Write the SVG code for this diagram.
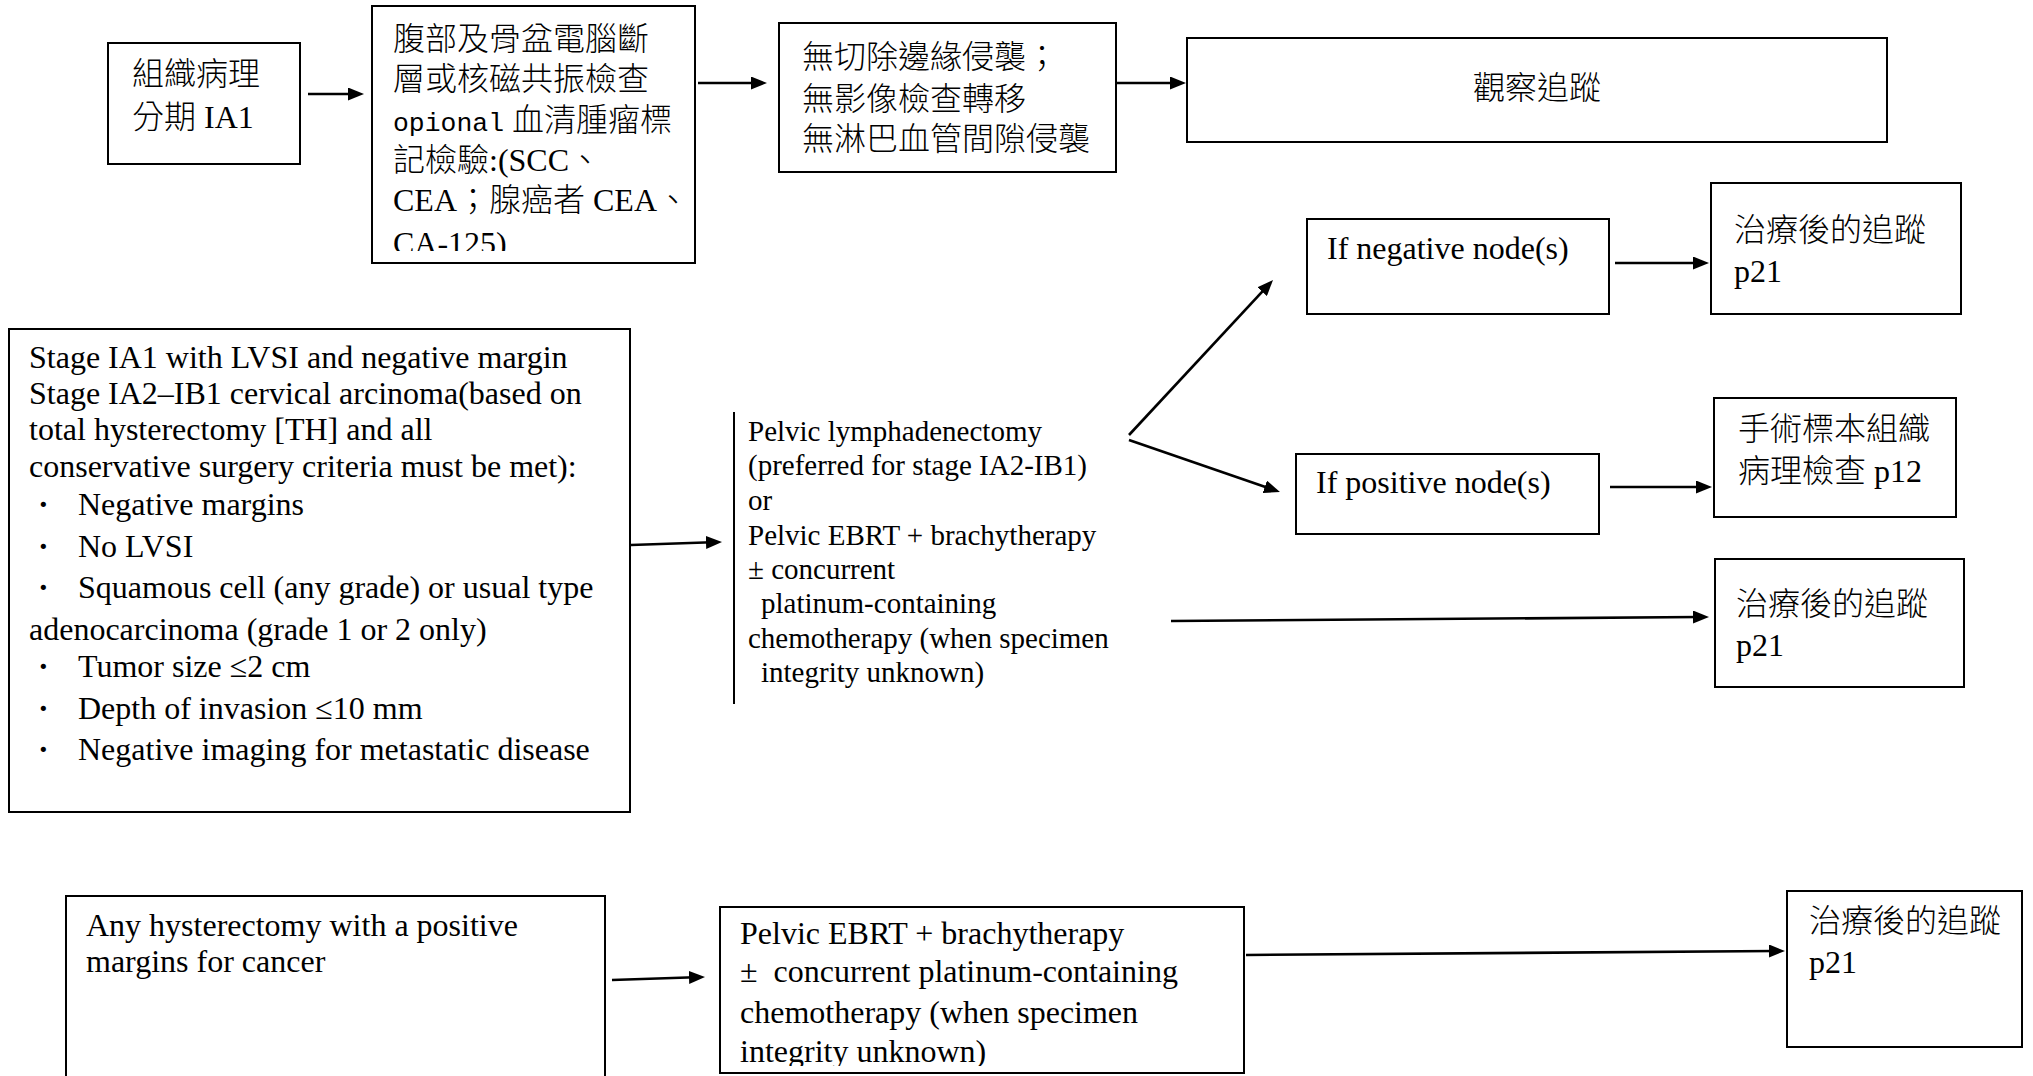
<svg xmlns="http://www.w3.org/2000/svg" width="2033" height="1076" viewBox="0 0 2033 1076">
<style>
.box{fill:#fff;stroke:#000;stroke-width:2}
.t{font-family:"Liberation Serif","Noto Sans CJK TC",serif;font-size:32px;font-weight:300;fill:#000}
.k{font-family:"Liberation Serif","Noto Sans CJK TC",serif;font-size:29px;fill:#000}
.mono{font-family:"Liberation Mono",monospace;font-size:26.5px}
.b{font-weight:700}
.c{fill:none;stroke:#000;stroke-width:2.6}
</style>
<defs>
<marker id="ah" markerUnits="userSpaceOnUse" viewBox="0 0 16 13" markerWidth="16" markerHeight="13" refX="6" refY="6.5" orient="auto">
<path d="M0,0 L16,6.5 L0,13 z" fill="#000"/>
</marker>
<clipPath id="clipB"><rect x="372" y="6" width="323" height="245"/></clipPath>
<clipPath id="clipM"><rect x="720" y="907" width="524" height="159"/></clipPath>
</defs>
<rect width="2033" height="1076" fill="#fff"/>

<g id="connectors">
<line class="c" x1="308" y1="94" x2="354" y2="94" marker-end="url(#ah)"/>
<line class="c" x1="698" y1="83" x2="757" y2="83" marker-end="url(#ah)"/>
<line class="c" x1="1117" y1="83" x2="1176" y2="83" marker-end="url(#ah)"/>
<line class="c" x1="1615" y1="263" x2="1699" y2="263" marker-end="url(#ah)"/>
<line class="c" x1="1610" y1="487" x2="1702" y2="487" marker-end="url(#ah)"/>
<line class="c" x1="1171" y1="621" x2="1699" y2="617" marker-end="url(#ah)"/>
<line class="c" x1="631" y1="545" x2="712" y2="542.3" marker-end="url(#ah)"/>
<line class="c" x1="1129" y1="435" x2="1266.2" y2="287.3" marker-end="url(#ah)"/>
<line class="c" x1="1129" y1="440" x2="1270.5" y2="488.7" marker-end="url(#ah)"/>
<line class="c" x1="612" y1="980" x2="695" y2="977.3" marker-end="url(#ah)"/>
<line class="c" x1="1246" y1="955" x2="1775" y2="951" marker-end="url(#ah)"/>
</g>

<g id="nodeA">
<rect class="box" x="108" y="43" width="192" height="121"/>
<text class="t" font-size="31" x="132" y="85">組織病理</text>
<text class="t" font-size="31" x="132" y="128">分期 IA1</text>
</g>

<g id="nodeB">
<rect class="box" x="372" y="6" width="323" height="257"/>
<g clip-path="url(#clipB)">
<text class="t" x="393" y="50">腹部及骨盆電腦斷</text>
<text class="t" x="393" y="90">層或核磁共振檢查</text>
<text class="t" x="393" y="131"><tspan class="mono" textLength="111" lengthAdjust="spacingAndGlyphs">opional</tspan> 血清腫瘤標</text>
<text class="t" x="393" y="171">記檢驗:(SCC、</text>
<text class="t" x="393" y="211">CEA；腺癌者 CEA、</text>
<text class="t" x="393" y="254">CA-125)</text>
</g>
</g>

<g id="nodeC">
<rect class="box" x="779" y="23" width="337" height="149"/>
<text class="t" font-size="31.5" x="802" y="68">無切除邊緣侵襲；</text>
<text class="t" font-size="31.5" x="802" y="110">無影像檢查轉移</text>
<text class="t" font-size="31.5" x="802" y="150">無淋巴血管間隙侵襲</text>
</g>

<g id="nodeD">
<rect class="box" x="1187" y="38" width="700" height="104"/>
<text class="t" x="1537" y="99" text-anchor="middle">觀察追蹤</text>
</g>

<g id="nodeE">
<rect class="box" x="1307" y="219" width="302" height="95"/>
<text class="t" x="1327" y="259">If negative node(s)</text>
</g>

<g id="nodeF">
<rect class="box" x="1711" y="183" width="250" height="131"/>
<text class="t" x="1734" y="241">治療後的追蹤</text>
<text class="t" x="1734" y="282">p21</text>
</g>

<g id="nodeG">
<rect class="box" x="1296" y="454" width="303" height="80"/>
<text class="t" x="1316" y="493">If positive node(s)</text>
</g>

<g id="nodeH">
<rect class="box" x="1714" y="398" width="242" height="119"/>
<text class="t" font-size="31.5" x="1738" y="440">手術標本組織</text>
<text class="t" font-size="31.5" x="1738" y="482">病理檢查 p12</text>
</g>

<g id="nodeI">
<rect class="box" x="1715" y="559" width="249" height="128"/>
<text class="t" x="1736" y="615">治療後的追蹤</text>
<text class="t" x="1736" y="656">p21</text>
</g>

<g id="nodeJ">
<rect class="box" x="9" y="329" width="621" height="483"/>
<text class="t" x="29" y="368">Stage IA1 with LVSI and negative margin</text>
<text class="t" x="29" y="404">Stage IA2–IB1 cervical arcinoma(based on</text>
<text class="t" x="29" y="440">total hysterectomy [TH] and all</text>
<text class="t" x="29" y="477">conservative surgery criteria must be met):</text>
<text class="t b" x="38" y="515">·</text><text class="t" x="78" y="515">Negative margins</text>
<text class="t b" x="38" y="557">·</text><text class="t" x="78" y="557">No LVSI</text>
<text class="t b" x="38" y="598">·</text><text class="t" x="78" y="598">Squamous cell (any grade) or usual type</text>
<text class="t" x="29" y="640">adenocarcinoma (grade 1 or 2 only)</text>
<text class="t b" x="38" y="677">·</text><text class="t" x="78" y="677">Tumor size ≤2 cm</text>
<text class="t b" x="38" y="719">·</text><text class="t" x="78" y="719">Depth of invasion ≤10 mm</text>
<text class="t b" x="38" y="760">·</text><text class="t" x="78" y="760">Negative imaging for metastatic disease</text>
</g>

<g id="nodeK">
<line x1="734" y1="412" x2="734" y2="704" stroke="#000" stroke-width="2"/>
<text class="k" x="748" y="441">Pelvic lymphadenectomy</text>
<text class="k" x="748" y="475">(preferred for stage IA2-IB1)</text>
<text class="k" x="748" y="510">or</text>
<text class="k" x="748" y="545">Pelvic EBRT + brachytherapy</text>
<text class="k" x="748" y="579">± concurrent</text>
<text class="k" x="761" y="613">platinum-containing</text>
<text class="k" x="748" y="648">chemotherapy (when specimen</text>
<text class="k" x="761" y="682">integrity unknown)</text>
</g>

<g id="nodeL">
<rect class="box" x="66" y="896" width="539" height="190"/>
<text class="t" x="86" y="936">Any hysterectomy with a positive</text>
<text class="t" x="86" y="972">margins for cancer</text>
</g>

<g id="nodeM">
<rect class="box" x="720" y="907" width="524" height="166"/>
<g clip-path="url(#clipM)">
<text class="t" x="740" y="944">Pelvic EBRT + brachytherapy</text>
<text class="t" x="740" y="982">±&#160; concurrent platinum-containing</text>
<text class="t" x="740" y="1023">chemotherapy (when specimen</text>
<text class="t" x="740" y="1062">integrity unknown)</text>
</g>
</g>

<g id="nodeN">
<rect class="box" x="1787" y="891" width="235" height="156"/>
<text class="t" x="1809" y="932">治療後的追蹤</text>
<text class="t" x="1809" y="973">p21</text>
</g>
</svg>
